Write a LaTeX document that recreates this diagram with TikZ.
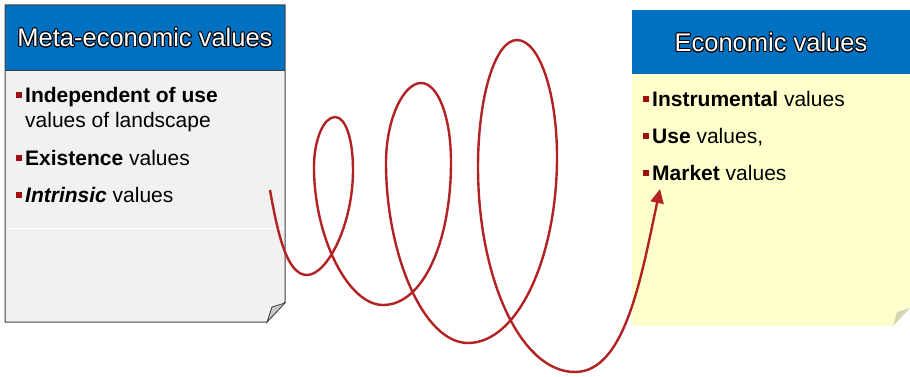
\documentclass[tikz,border=0pt]{standalone}
\usepackage{fontspec}
\setmainfont{Liberation Sans}
\usepackage[copies]{contour}
\contourlength{0.8pt}
\contournumber{24}
\usetikzlibrary{arrows.meta}
\definecolor{headBlue}{HTML}{0070C0}
\definecolor{paperGray}{HTML}{F1F1F1}
\definecolor{paperYellow}{HTML}{FFFFCC}
\definecolor{edgeDark}{HTML}{404040}
\definecolor{foldGray}{HTML}{C8C8C8}
\definecolor{foldYellow}{HTML}{D6D6B4}
\definecolor{bulletRed}{HTML}{A01010}
\definecolor{spiralRed}{HTML}{B22222}
\newcommand{\bul}{\llap{\textcolor{bulletRed}{\rule[4pt]{6pt}{6pt}}\hspace{3pt}}}

\begin{document}
\begin{tikzpicture}[
    x=1pt, y=1pt,
    head/.style={font=\fontsize{25.5}{28}\selectfont, text=white, inner sep=0pt},
    item/.style={font=\fontsize{21}{25}\selectfont, align=left, inner sep=0pt,
                 anchor=base west},
    spiral/.style={draw=spiralRed, line width=2.4pt,
                   -{Triangle[length=14pt, width=13pt]}},
  ]
    \useasboundingbox (0,0) rectangle (910,376);

    % meta-economic sheet
    \fill[paperGray] (5,371) -- (285,371) -- (285,74) -- (265,54) -- (5,54) -- cycle;
    \draw[white, line width=0.8pt] (6,148) -- (284,148);
    \fill[headBlue] (5,306) rectangle (285,371);
    \draw[edgeDark, line width=1pt] (5,371) -- (285,371) -- (285,74) -- (267,54)
      -- (5,54) -- cycle;
    \draw[edgeDark, line width=0.8pt] (5,306) -- (285,306);
    \filldraw[fill=foldGray, draw=edgeDark, line width=0.8pt]
      (267,54) -- (285,73) -- (272,69) -- cycle;
    \node[head] (metaHead) at (145,338) {\contour{black}{Meta-economic values}};
    \node[item] (metaUse) at (25,249) {\bul\textbf{Independent of use}\\values of landscape};
    \node[item] (metaExist) at (25,211) {\bul\textbf{Existence} values};
    \node[item] (metaIntr) at (25,174) {\bul\textbf{\textit{Intrinsic}} values};

    % economic sheet
    \fill[paperYellow] (632,366) -- (910,366) -- (910,68) -- (893,50) -- (632,50) -- cycle;
    \fill[headBlue] (632,302) rectangle (910,366);
    \fill[foldYellow] (893,50) -- (910,68) -- (897,64) -- cycle;
    \node[head] (ecoHead) at (771,333) {\contour{black}{Economic values}};
    \node[item] (ecoInstr) at (652,270) {\bul\textbf{Instrumental} values};
    \node[item] (ecoUse) at (652,233) {\bul\textbf{Use} values,};
    \node[item] (ecoMarket) at (652,196) {\bul\textbf{Market} values};

    \coordinate (spStart) at (270,186);
    \coordinate (spEnd) at (660,187);
    \draw[spiral] (spStart)
      to[out=-80, in=180, out distance=45pt, in distance=20pt] (307,101)
      to[out=0, in=-90, out distance=20pt, in distance=55pt] (353,206)
      to[out=90, in=0, out distance=30pt, in distance=11pt] (335,259)
      to[out=180, in=90, out distance=11pt, in distance=28pt] (314,209)
      to[out=-90, in=180, out distance=70pt, in distance=35pt] (383,71)
      to[out=0, in=-90, out distance=40pt, in distance=80pt] (451,214)
      to[out=90, in=0, out distance=45pt, in distance=17pt] (421,293)
      to[out=180, in=90, out distance=17pt, in distance=45pt] (386,213)
      to[out=-90, in=180, out distance=90pt, in distance=45pt] (468,33)
      to[out=0, in=-90, out distance=50pt, in distance=100pt] (557,219)
      to[out=90, in=0, out distance=65pt, in distance=22pt] (517,336)
      to[out=180, in=90, out distance=22pt, in distance=70pt] (478,209)
      to[out=-90, in=180, out distance=110pt, in distance=55pt] (575,4)
      to[out=0, in=-102, out distance=50pt, in distance=90pt] (spEnd);
  \end{tikzpicture}
\end{document}
